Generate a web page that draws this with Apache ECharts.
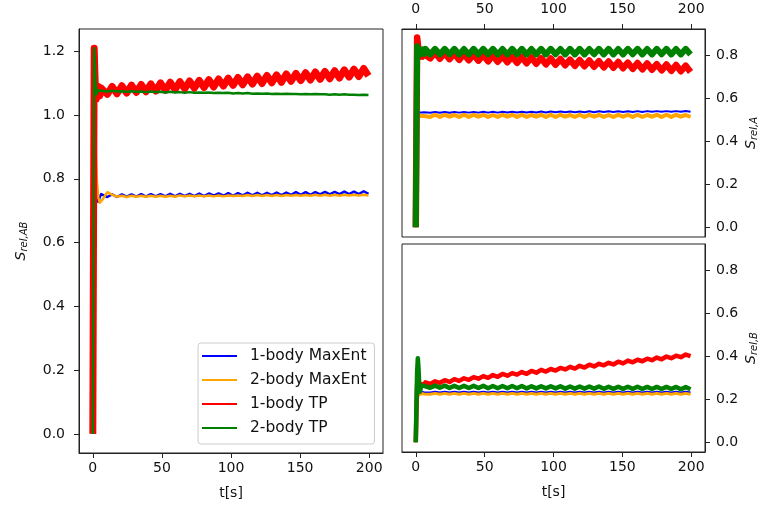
<!DOCTYPE html>
<html>
<head>
<meta charset="utf-8">
<script src="https://cdn.jsdelivr.net/npm/echarts@6/dist/echarts.min.js"></script>
<style>html,body{margin:0;padding:0;background:#fff;}#c{width:761px;height:512px;}</style>
</head>
<body>
<div id="c"></div>
<script>
// time samples [s]
var T = [0,0.5,1,1.5,2,2.5,3,4,5,6,7,
10.5,14,17.5,21,24.5,28,31.5,35,38.5,42,
45.5,49,52.5,56,59.5,63,66.5,70,73.5,77,
80.5,84,87.5,91,94.5,98,101.5,105,108.5,112,
115.5,119,122.5,126,129.5,133,136.5,140,143.5,147,
150.5,154,157.5,161,164.5,168,171.5,175,178.5,182,
185.5,189,192.5,196,199.5];

var seriesNames = ['1-body MaxEnt','2-body MaxEnt','1-body TP','2-body TP'];
var xTicks = [0,50,100,150,200];
var yTicksAB = [0,0.2,0.4,0.6,0.8,1.0,1.2];
var yTicksAB_small = [0,0.2,0.4,0.6,0.8];

// S_rel,AB
var abBlue = [0,0.45,0.78,0.80,0.77,0.75,0.735,0.728,0.742,0.752,0.748,
0.743,0.751,0.743,0.751,0.744,0.751,0.744,0.752,0.744,0.752,
0.745,0.752,0.745,0.753,0.745,0.753,0.746,0.753,0.746,0.754,
0.746,0.754,0.747,0.754,0.747,0.755,0.747,0.755,0.748,0.756,
0.748,0.756,0.748,0.756,0.749,0.757,0.749,0.757,0.750,0.758,
0.750,0.758,0.750,0.758,0.751,0.759,0.751,0.759,0.752,0.760,
0.752,0.760,0.752,0.761,0.753];
var abOrange = [0,0.55,0.90,0.94,0.90,0.84,0.79,0.74,0.725,0.723,0.735,
0.758,0.750,0.744,0.747,0.743,0.747,0.744,0.747,0.744,0.747,
0.744,0.747,0.744,0.747,0.744,0.748,0.745,0.748,0.745,0.748,
0.745,0.748,0.745,0.748,0.745,0.748,0.746,0.748,0.746,0.749,
0.746,0.749,0.746,0.749,0.746,0.749,0.746,0.749,0.747,0.749,
0.747,0.749,0.747,0.750,0.747,0.750,0.747,0.750,0.747,0.750,
0.748,0.750,0.748,0.750,0.748];
var abRed = [0,0.62,1.21,1.13,1.07,1.05,1.07,1.09,1.06,1.085,1.09,
1.065,1.090,1.067,1.092,1.069,1.094,1.071,1.096,1.073,1.098,
1.075,1.101,1.078,1.103,1.080,1.105,1.082,1.107,1.084,1.109,
1.086,1.111,1.088,1.113,1.091,1.116,1.093,1.118,1.095,1.120,
1.097,1.122,1.099,1.124,1.101,1.126,1.103,1.129,1.106,1.131,
1.108,1.133,1.110,1.135,1.112,1.137,1.114,1.139,1.116,1.142,
1.119,1.144,1.121,1.146,1.123];
var abGreen = [0,0.62,1.21,1.17,1.10,1.065,1.07,1.078,1.075,1.076,1.075,
1.074,1.076,1.074,1.075,1.073,1.075,1.073,1.074,1.072,1.074,
1.072,1.073,1.071,1.073,1.071,1.072,1.070,1.072,1.070,1.071,
1.070,1.071,1.069,1.070,1.069,1.070,1.068,1.069,1.068,1.069,
1.067,1.068,1.067,1.068,1.066,1.067,1.066,1.067,1.066,1.066,
1.065,1.066,1.065,1.066,1.065,1.065,1.064,1.065,1.064,1.065,
1.064,1.064,1.063,1.064,1.063];

// S_rel,A
var aBlue = [0,0.27,0.535,0.535,0.532,0.533,0.534,0.533,0.533,0.534,0.533,
0.531,0.535,0.531,0.535,0.531,0.535,0.532,0.535,0.532,0.535,
0.532,0.536,0.532,0.536,0.532,0.536,0.533,0.536,0.533,0.536,
0.533,0.536,0.533,0.537,0.533,0.537,0.534,0.537,0.534,0.537,
0.534,0.537,0.534,0.538,0.534,0.538,0.535,0.538,0.535,0.538,
0.535,0.538,0.535,0.539,0.535,0.539,0.536,0.539,0.536,0.539,
0.536,0.539,0.536,0.540,0.536];
var aOrange = [0,0.26,0.52,0.52,0.516,0.518,0.517,0.516,0.518,0.516,0.519,
0.512,0.522,0.512,0.522,0.513,0.521,0.512,0.522,0.512,0.522,
0.513,0.522,0.512,0.521,0.512,0.522,0.513,0.522,0.512,0.522,
0.512,0.521,0.513,0.522,0.512,0.522,0.512,0.522,0.513,0.521,
0.512,0.522,0.512,0.522,0.513,0.522,0.512,0.521,0.512,0.522,
0.513,0.522,0.512,0.522,0.512,0.521,0.513,0.522,0.512,0.522,
0.512,0.522,0.513,0.521,0.512];
var aRed = [0,0.45,0.88,0.85,0.81,0.79,0.80,0.815,0.792,0.812,0.80,
0.784,0.811,0.782,0.809,0.780,0.806,0.777,0.804,0.775,0.802,
0.773,0.799,0.770,0.797,0.768,0.795,0.766,0.792,0.763,0.790,
0.761,0.788,0.759,0.785,0.756,0.783,0.754,0.781,0.752,0.778,
0.749,0.776,0.747,0.774,0.745,0.771,0.742,0.769,0.740,0.767,
0.738,0.764,0.735,0.762,0.733,0.760,0.731,0.757,0.728,0.755,
0.726,0.753,0.724,0.750,0.721];
var aGreen = [0,0.42,0.84,0.835,0.82,0.80,0.825,0.81,0.826,0.804,0.828,
0.802,0.828,0.802,0.828,0.803,0.828,0.802,0.827,0.802,0.828,
0.802,0.828,0.803,0.828,0.802,0.827,0.802,0.828,0.803,0.828,
0.802,0.827,0.802,0.828,0.802,0.828,0.803,0.827,0.802,0.828,
0.802,0.828,0.802,0.827,0.803,0.828,0.802,0.828,0.802,0.827,
0.802,0.828,0.803,0.828,0.802,0.827,0.802,0.828,0.803,0.828,
0.802,0.827,0.802,0.828,0.802];

// S_rel,B
var bBlue = [0,0.12,0.235,0.24,0.232,0.228,0.232,0.234,0.233,0.232,0.234,
0.231,0.235,0.231,0.235,0.231,0.235,0.231,0.235,0.231,0.235,
0.231,0.235,0.231,0.235,0.231,0.235,0.231,0.235,0.231,0.235,
0.231,0.235,0.231,0.235,0.231,0.235,0.231,0.235,0.231,0.235,
0.231,0.235,0.231,0.235,0.231,0.235,0.231,0.235,0.231,0.235,
0.231,0.235,0.231,0.235,0.231,0.235,0.231,0.235,0.231,0.235,
0.231,0.235,0.231,0.235,0.231];
var bOrange = [0,0.11,0.225,0.23,0.224,0.22,0.224,0.226,0.225,0.224,0.226,
0.223,0.227,0.223,0.227,0.223,0.227,0.223,0.227,0.223,0.227,
0.223,0.227,0.223,0.227,0.223,0.227,0.223,0.227,0.223,0.227,
0.223,0.227,0.223,0.227,0.223,0.227,0.223,0.227,0.223,0.227,
0.223,0.227,0.223,0.227,0.223,0.227,0.223,0.227,0.223,0.227,
0.223,0.227,0.223,0.227,0.223,0.227,0.223,0.227,0.223,0.227,
0.223,0.227,0.223,0.227,0.223];
var bRed = [0,0.14,0.27,0.275,0.265,0.26,0.262,0.27,0.275,0.268,0.278,
0.271,0.283,0.276,0.288,0.280,0.293,0.285,0.297,0.290,0.302,
0.295,0.307,0.299,0.312,0.304,0.317,0.309,0.321,0.314,0.326,
0.318,0.331,0.323,0.336,0.328,0.340,0.333,0.345,0.338,0.350,
0.342,0.355,0.347,0.360,0.352,0.364,0.357,0.369,0.361,0.374,
0.366,0.379,0.371,0.383,0.376,0.388,0.381,0.393,0.385,0.398,
0.390,0.402,0.395,0.407,0.400];
var bGreen = [0,0.18,0.33,0.39,0.34,0.27,0.235,0.262,0.255,0.262,0.255,
0.253,0.263,0.253,0.263,0.252,0.262,0.252,0.262,0.252,0.262,
0.252,0.262,0.251,0.261,0.251,0.261,0.251,0.261,0.251,0.261,
0.250,0.260,0.250,0.260,0.250,0.260,0.250,0.260,0.249,0.259,
0.249,0.259,0.249,0.259,0.249,0.259,0.248,0.258,0.248,0.258,
0.248,0.258,0.248,0.258,0.247,0.257,0.247,0.257,0.247,0.257,
0.247,0.257,0.246,0.256,0.246];

var colors = ['#0000ff','#ffa500','#ff0000','#008000'];
var FONT = 'DejaVu Sans';
var TXT = '#111';

function pairs(arr){ return T.map(function(t,i){ return [t, arr[i]]; }); }
function mk(name, arr, idx, ci, w){
  return {name:name, type:'line', xAxisIndex:idx, yAxisIndex:idx, data:pairs(arr),
    symbol:'none', showSymbol:false, animation:false, clip:true,
    lineStyle:{color:colors[ci], width:w, join:'round', cap:'butt'}, itemStyle:{color:colors[ci]}, z:2+ci};
}
function nameRich(){
  return {
    i:{fontFamily:FONT, fontStyle:'italic', fontSize:14, color:TXT, lineHeight:16},
    sub:{fontFamily:FONT, fontStyle:'italic', fontSize:10, color:TXT, lineHeight:16, verticalAlign:'bottom', padding:[5,0,0,0]}
  };
}
function xAx(idx, pos, showLabel, nm){
  return {type:'value', gridIndex:idx, position:pos, min:-10, max:210,
    name: nm||'', nameLocation:'middle', nameGap:33,
    nameTextStyle:{fontFamily:FONT, fontSize:14, color:TXT},
    axisLine:{show:true, onZero:false, lineStyle:{color:'#222', width:1}},
    axisTick:{show:true, inside:false, length:5, lineStyle:{color:'#222'}, customValues:xTicks},
    axisLabel:{show:showLabel, margin: pos==='top'?13:8, fontFamily:FONT, fontSize:14, color:TXT,
      customValues:xTicks, formatter:function(v){return String(v);}},
    splitLine:{show:false}};
}
function yAx(idx, pos, min, max, ticks, nm, gap){
  return {type:'value', gridIndex:idx, position:pos, min:min, max:max,
    name:nm, nameLocation:'middle', nameRotate:90, nameGap:gap,
    nameTextStyle:{rich:nameRich()},
    axisLine:{show:true, onZero:false, lineStyle:{color:'#222', width:1}},
    axisTick:{show:true, inside:false, length:5, lineStyle:{color:'#222'}, customValues:ticks},
    axisLabel:{show:true, margin:pos==='left'?14:11, fontFamily:FONT, fontSize:14, color:TXT,
      customValues:ticks, formatter:function(v){return v.toFixed(1);}},
    splitLine:{show:false}};
}

var series = [];
var groups = [[abBlue,abOrange,abRed,abGreen],[aBlue,aOrange,aRed,aGreen],[bBlue,bOrange,bRed,bGreen]];
var widths = [[2.5,2.5,7,2.5],[2,4,6.5,6],[2,3,4.5,4.5]];
for (var g=0; g<3; g++){
  for (var s=0; s<4; s++){
    series.push(mk(seriesNames[s], groups[g][s], g, s, widths[g][s]));
  }
}

var option = {
  animation:false,
  backgroundColor:'#fff',
  grid:[
    {left:79, top:29, width:304, height:424, show:true, borderColor:'#222', borderWidth:1, backgroundColor:'transparent'},
    {left:402, top:29, width:303, height:208, show:true, borderColor:'#222', borderWidth:1, backgroundColor:'transparent'},
    {left:402, top:244, width:303, height:208, show:true, borderColor:'#222', borderWidth:1, backgroundColor:'transparent'}
  ],
  xAxis:[ xAx(0,'bottom',true,'t[s]'), xAx(1,'top',true,''), xAx(2,'bottom',true,'t[s]') ],
  yAxis:[
    yAx(0,'left',-0.06,1.27,yTicksAB,'{i|S}{sub|rel,AB}',50),
    yAx(1,'right',-0.045,0.92,yTicksAB_small,'{i|S}{sub|rel,A}',38),
    yAx(2,'right',-0.045,0.92,yTicksAB_small,'{i|S}{sub|rel,B}',38)
  ],
  legend:{
    show:true, orient:'vertical', left:198, top:343,
    data:seriesNames.map(function(n){return {name:n, icon:'rect'};}),
    itemWidth:35, itemHeight:2, itemGap:8,
    padding:[5,8,8,4],
    backgroundColor:'rgba(255,255,255,0.85)', borderColor:'#cccccc', borderWidth:1, borderRadius:3,
    textStyle:{fontFamily:FONT, fontSize:15.5, color:TXT, padding:[0,0,0,8]},
    selectedMode:false
  },
  series:series
};
var chart = echarts.init(document.getElementById('c'), null, {renderer:'canvas'});
chart.setOption(option);
</script>
</body>
</html>
